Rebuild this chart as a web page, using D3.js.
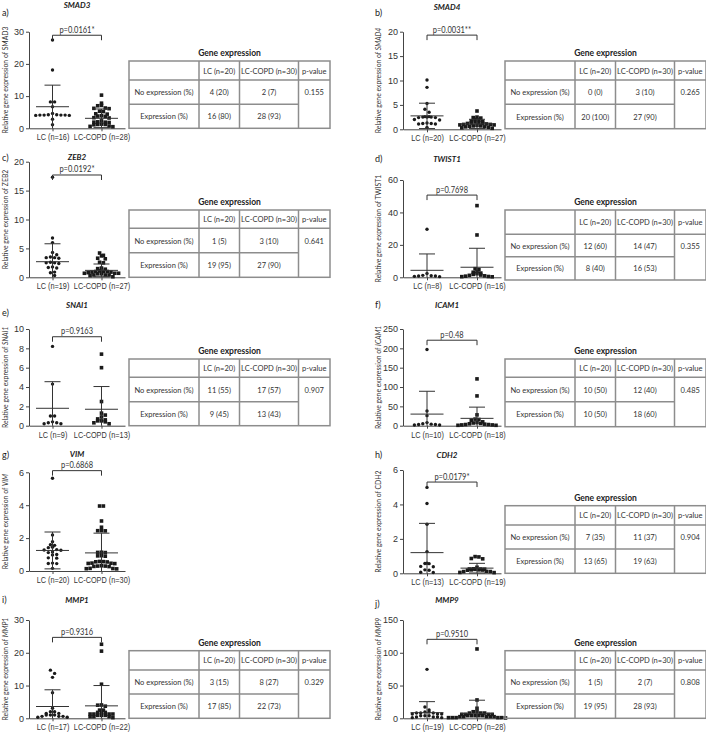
<!DOCTYPE html>
<html>
<head>
<meta charset="utf-8">
<script src="https://cdn.jsdelivr.net/npm/d3@7"></script>
<style>
  body { margin: 0; background: #fff; }
  svg { display: block; font-family: Lato, "Open Sans", sans-serif; }
</style>
</head>
<body>
<div id="chart"></div>
<script>
// ---- data ----
var letters = ["a)", "b)", "c)", "d)", "e)", "f)", "g)", "h)", "i)", "j)"];
var genes = ["SMAD3", "SMAD4", "ZEB2", "TWIST1", "SNAI1", "ICAM1", "VIM", "CDH2", "MMP1", "MMP9"];
var labelItalic = [false, true, false, false, true, true, true, false, true, true];
var yTicks = [
  [0, 10, 20, 30], [0, 5, 10, 15, 20], [0, 5, 10, 15, 20], [0, 20, 40, 60],
  [0, 2, 4, 6, 8, 10], [0, 50, 100, 150, 200, 250], [0, 2, 4, 6], [0, 2, 4, 6],
  [0, 10, 20, 30], [0, 50, 100, 150]
];
var nLC = [16, 20, 19, 8, 9, 10, 20, 13, 17, 19];
var nCOPD = [28, 27, 27, 16, 13, 18, 30, 19, 22, 28];
var pLabels = ["p=0.0161*", "p=0.0031**", "p=0.0192*", "p=0.7698", "p=0.9163",
  "p=0.48", "p=0.6868", "p=0.0179*", "p=0.9316", "p=0.9510"];
var bracketAt = [28.9, 19.3, 17.7, 50.7, 9.2, 221, 6.1, 5.3, 24.7, 120.5];

var lcValues = [
  [27.4, 18.1, 8.2, 8.2, 6.7, 4.6, 4.2, 4.1, 4.1, 4.0, 4.1, 4.2, 4.0, 4.1, 2.8, 1.1],
  [10.1, 8.6, 5.3, 4.1, 3.5, 2.6, 2.5, 2.4, 2.5, 2.6, 2.4, 2.5, 2.0, 1.9, 1.2, 1.1, 1.3, 1.2, 1.1, 0.4],
  [17.3, 6.8, 6.0, 4.3, 3.9, 3.4, 3.3, 3.5, 3.4, 2.5, 2.6, 2.4, 2.5, 1.7, 1.6, 1.8, 0.8, 0.9, 0.3],
  [29.6, 2.3, 1.2, 1.0, 0.8, 0.8, 0.6, 0.4],
  [8.2, 4.3, 1.0, 1.0, 0.4, 0.3, 0.3, 0.2, 0.2],
  [197, 38, 26, 8, 5, 4, 3, 3, 2, 2],
  [5.64, 2.19, 1.78, 1.6, 1.56, 1.45, 1.42, 1.3, 1.28, 1.26, 1.15, 1.12, 1.0, 0.98, 0.8, 0.78, 0.48, 0.46, 0.45, 0.16],
  [4.99, 4.05, 2.85, 1.26, 0.58, 0.57, 0.56, 0.4, 0.38, 0.2, 0.18, 0.06, 0.05],
  [14.7, 13.7, 12.5, 7.8, 3.05, 2.03, 2.0, 1.5, 1.5, 1.0, 1.0, 1.0, 0.6, 0.6, 0.6, 0.3, 0.3],
  [74.7, 17.3, 12.7, 9.5, 9.5, 8, 8, 8, 6.5, 6.5, 6.5, 4, 4, 4, 2, 2, 2, 1, 1]
];
var copdValues = [
  [10.3, 7.8, 7.1, 7.0, 6.2, 6.3, 6.1, 5.3, 5.2, 4.4, 4.5, 3.8, 3.7, 3.9, 3.3, 3.2, 2.3, 1.9, 1.8, 2.0, 1.9, 1.2, 1.1, 1.3, 1.2, 0.6, 0.7, 0.5],
  [3.75, 2.5, 2.4, 2.3, 2.0, 1.9, 1.7, 1.6, 1.5, 1.4, 1.3, 1.2, 1.2, 1.1, 1.0, 1.0, 0.9, 0.9, 0.8, 0.7, 0.7, 0.6, 0.5, 0.5, 0.4, 0.3, 0.2],
  [4.2, 3.8, 3.7, 3.3, 3.2, 2.6, 2.5, 1.5, 1.6, 1.4, 1.0, 1.0, 0.9, 1.1, 1.0, 0.9, 0.7, 0.7, 0.6, 0.8, 0.7, 0.6, 0.4, 0.4, 0.3, 0.4, 0.1],
  [44.2, 26.1, 5.3, 4.8, 3.5, 3.1, 2.6, 2.2, 1.8, 1.4, 1.2, 0.9, 0.7, 0.5, 0.4, 0.3],
  [7.4, 6.0, 2.5, 1.3, 1.1, 0.9, 0.7, 0.6, 0.5, 0.5, 0.4, 0.3, 0.2],
  [121, 77, 28, 17, 16, 14, 10, 8, 7, 6, 5, 4, 3, 3, 2, 2, 1, 1],
  [3.95, 3.95, 3.04, 2.66, 2.45, 2.45, 2.44, 1.14, 1.13, 1.12, 0.93, 0.92, 0.9, 0.58, 0.57, 0.56, 0.55, 0.48, 0.47, 0.46, 0.45, 0.32, 0.3, 0.3, 0.28, 0.27, 0.16, 0.15, 0.14, 0.13],
  [0.97, 0.95, 0.86, 0.84, 0.35, 0.26, 0.25, 0.25, 0.24, 0.23, 0.2, 0.2, 0.19, 0.18, 0.11, 0.1, 0.1, 0.05, 0.04],
  [22.6, 20.5, 10.4, 4.07, 4.0, 3.7, 2.5, 2.5, 1.8, 1.8, 1.8, 1.3, 1.3, 1.3, 1.3, 0.9, 0.9, 0.9, 0.5, 0.5, 0.5, 0.2],
  [105.8, 28, 15.3, 10, 10, 8, 8, 8, 6, 6, 6, 6, 4, 4, 4, 4, 4, 2.5, 2.5, 2.5, 2.5, 2.5, 1, 1, 1, 1, 1, 0.5]
];
var lcMean = [6.7, 2.75, 2.7, 4.3, 1.8, 30, 1.25, 1.2, 3.6, 8.6];
var lcSD = [6.7, 2.6, 3.1, 10.1, 2.75, 59, 1.12, 1.7, 5.1, 16.8];
var copdMean = [3.1, 1.1, 1.2, 6.2, 1.7, 19, 1.1, 0.3, 3.8, 7.6];
var copdSD = [2.9, 0.95, 1.1, 11.7, 2.35, 29, 1.2, 0.28, 6.2, 20];

// contingency tables (null = no table for that panel)
var tableHead = ["", "LC (n=20)", "LC-COPD (n=30)", "p-value"];
var noExprRow = [["4 (20)", "2 (7)"], ["0 (0)", "3 (10)"], ["1 (5)", "3 (10)"], ["12 (60)", "14 (47)"],
  ["11 (55)", "17 (57)"], ["10 (50)", "12 (40)"], null, ["7 (35)", "11 (37)"], ["3 (15)", "8 (27)"], ["1 (5)", "2 (7)"]];
var exprRow = [["16 (80)", "28 (93)"], ["20 (100)", "27 (90)"], ["19 (95)", "27 (90)"], ["8 (40)", "16 (53)"],
  ["9 (45)", "13 (43)"], ["10 (50)", "18 (60)"], null, ["13 (65)", "19 (63)"], ["17 (85)", "22 (73)"], ["19 (95)", "28 (93)"]];
var tablePValue = ["0.155", "0.265", "0.641", "0.355", "0.907", "0.485", null, "0.904", "0.329", "0.808"];

// ---- layout ----
var W = 706, H = 734;
var colLayout = [
  { axisX: 29, axisEnd: 125, tableX: 129, letterX: 2, ylabX: 8 },
  { axisX: 403, axisEnd: 501, tableX: 505, letterX: 375, ylabX: 381 }
];
var colWidths = [70, 40.5, 59, 31.5];
var rowLayout = [
  { top: 31.7, bot: 128.3, title: 8, letter: 16, tab: [61, 80, 104.3, 128.3] },
  { top: 31.7, bot: 129.3, title: 10, letter: 16, tab: [61, 80, 104.3, 128.7] },
  { top: 161.7, bot: 277.3, title: 160, letter: 161, tab: [210, 228.3, 252.7, 277.3] },
  { top: 180, bot: 277.3, title: 161.5, letter: 161.5, tab: [210, 234.3, 256.7, 280] },
  { top: 329, bot: 425.7, title: 308, letter: 316, tab: [359, 377.3, 401.7, 425.7] },
  { top: 329, bot: 425.7, title: 308, letter: 308, tab: [359, 377.3, 401.7, 426.7] },
  { top: 472.3, bot: 571, title: 456.5, letter: 458, tab: null },
  { top: 470, bot: 573.3, title: 457.5, letter: 457.5, tab: [505.7, 525, 549, 573.3] },
  { top: 620, bot: 718.3, title: 602.5, letter: 602.5, tab: [650.7, 670, 694, 718.3] },
  { top: 620, bot: 718.3, title: 602.5, letter: 607, tab: [650.7, 670, 694, 718.3] }
];

var ink = "#1a1a1a", axisCol = "#444", gridCol = "#8d8d8d";

var svg = d3.select("#chart").append("svg").attr("width", W).attr("height", H);

// squeeze text horizontally a bit (the figure uses a narrow font)
function condense(sel, f) {
  sel.each(function () {
    var len = this.getComputedTextLength();
    if (len > 0) d3.select(this).attr("textLength", len * f).attr("lengthAdjust", "spacingAndGlyphs");
  });
}

// Prism-like scatter: points close in value share a row, spread around the centre
function spread(vals, y, cx, s, h) {
  var sorted = vals.slice().sort(d3.ascending);
  var rows = [], cur = null;
  sorted.forEach(function (v) {
    if (!cur || y(cur[0]) - y(v) > h) { cur = [v]; rows.push(cur); } else cur.push(v);
  });
  var placed = [];
  rows.forEach(function (row) {
    var k = row.length;
    var offs = d3.range(k).map(function (j) { return (j - (k - 1) / 2) * s; })
      .sort(function (a, b) { return Math.abs(a) - Math.abs(b) || a - b; });
    var pts = row.slice().sort(d3.descending).map(function (v, j) { return { v: v, ox: offs[j], py: y(v) }; });
    var shift = [0, s / 2, -s / 2].find(function (sh) {
      return pts.every(function (p) {
        return placed.every(function (q) { return Math.hypot(q.ox - p.ox - sh, q.py - p.py) >= s * 0.8; });
      });
    }) || 0;
    pts.forEach(function (p) { p.ox += shift; p.x = cx + p.ox; placed.push(p); });
  });
  return placed;
}

genes.forEach(function (gene, i) {
  var cl = colLayout[i % 2], rl = rowLayout[i];
  var g = svg.append("g");
  var ticks = yTicks[i];

  var y = d3.scaleLinear().domain([0, ticks[ticks.length - 1]]).range([rl.bot, rl.top]);
  var x = d3.scalePoint().domain(["LC", "LC-COPD"]).range([cl.axisX, cl.axisEnd]).padding(0.48);

  // letter + gene title
  g.append("text").attr("x", cl.letterX).attr("y", rl.letter)
    .attr("font-size", 9).attr("fill", ink).text(letters[i]);
  g.append("text").attr("x", (cl.axisX + cl.axisEnd) / 2 - (i % 2 ? 5 : 0)).attr("y", rl.title)
    .attr("text-anchor", "middle").attr("font-size", 8).attr("font-weight", "bold")
    .attr("font-style", "italic").attr("fill", ink).text(gene);

  // y axis
  var ya = g.append("g").attr("transform", "translate(" + cl.axisX + ",0)")
    .call(d3.axisLeft(y).tickValues(ticks).tickSize(3).tickSizeOuter(0).tickPadding(2)
      .tickFormat(function (d) { return d; }));
  ya.select(".domain").attr("stroke", axisCol);
  ya.selectAll(".tick line").attr("stroke", axisCol);
  ya.selectAll("text").attr("font-size", 9).attr("fill", "#333").attr("font-family", null);

  // x axis
  var xa = g.append("g").attr("transform", "translate(0," + rl.bot + ")")
    .call(d3.axisBottom(x).tickSize(3).tickSizeOuter(0).tickPadding(3)
      .tickFormat(function (d, j) { return d + " (n=" + (j ? nCOPD[i] : nLC[i]) + ")"; }));
  xa.select(".domain").attr("stroke", axisCol);
  xa.selectAll(".tick line").attr("stroke", axisCol);
  xa.selectAll("text").attr("font-size", 8.5).attr("fill", "#333").attr("font-family", null);
  condense(xa.selectAll("text"), 0.86);

  // y label
  var yl = g.append("text")
    .attr("transform", "translate(" + cl.ylabX + "," + (rl.top + rl.bot) / 2 + ") rotate(-90)")
    .attr("text-anchor", "middle").attr("font-size", 8.3).attr("fill", "#333");
  yl.append("tspan").text("Relative gene expression of ");
  yl.append("tspan").attr("font-style", labelItalic[i] ? "italic" : "normal").text(gene);
  condense(yl, 0.82);

  // points
  var lcPts = spread(lcValues[i], y, x("LC"), 4.2, 3.4);
  var copdPts = spread(copdValues[i], y, x("LC-COPD"), 3.8, 3.4);
  g.append("g").selectAll("circle").data(lcPts).enter().append("circle")
    .attr("cx", function (d) { return d.x; }).attr("cy", function (d) { return d.py; })
    .attr("r", 1.7).attr("fill", ink);
  g.append("g").selectAll("rect").data(copdPts).enter().append("rect")
    .attr("x", function (d) { return d.x - 1.8; }).attr("y", function (d) { return d.py - 1.8; })
    .attr("width", 3.6).attr("height", 3.6).attr("fill", ink);

  // mean + SD
  [["LC", lcMean[i], lcSD[i]], ["LC-COPD", copdMean[i], copdSD[i]]].forEach(function (m) {
    var cx = x(m[0]);
    var lo = Math.max(0, m[1] - m[2]), hi = m[1] + m[2];
    var eg = g.append("g").attr("stroke", "#333").attr("stroke-width", 1).attr("fill", "none");
    eg.append("line").attr("x1", cx - 16.5).attr("x2", cx + 16.5).attr("y1", y(m[1])).attr("y2", y(m[1]));
    eg.append("line").attr("x1", cx).attr("x2", cx).attr("y1", y(lo)).attr("y2", y(hi));
    eg.append("line").attr("x1", cx - 8).attr("x2", cx + 8).attr("y1", y(hi)).attr("y2", y(hi));
    if (lo > 0) eg.append("line").attr("x1", cx - 8).attr("x2", cx + 8).attr("y1", y(lo)).attr("y2", y(lo));
  });

  // significance bracket
  var by = y(bracketAt[i]);
  g.append("path")
    .attr("d", "M" + x("LC") + "," + (by + 5) + "V" + by + "H" + x("LC-COPD") + "V" + (by + 5))
    .attr("fill", "none").attr("stroke", "#333").attr("stroke-width", 1);
  var pt = g.append("text").attr("x", (x("LC") + x("LC-COPD")) / 2).attr("y", by - 2.5)
    .attr("text-anchor", "middle").attr("font-size", 8.5).attr("fill", "#333").text(pLabels[i]);
  condense(pt, 0.88);

  // table
  if (!rl.tab) return;
  var tx = [cl.tableX];
  colWidths.forEach(function (w, j) { tx.push(tx[j] + w); });
  var ty = rl.tab;
  var tg = g.append("g");
  tg.append("text").attr("x", (tx[0] + tx[4]) / 2).attr("y", ty[0] - 5)
    .attr("text-anchor", "middle").attr("font-size", 8.5).attr("font-weight", "bold")
    .attr("fill", "#222").text("Gene expression");

  var lines = tg.append("g").attr("stroke", gridCol).attr("stroke-width", 1.5);
  lines.append("rect").attr("x", tx[0]).attr("y", ty[0]).attr("width", tx[4] - tx[0])
    .attr("height", ty[3] - ty[0]).attr("fill", "none");
  lines.append("line").attr("x1", tx[0]).attr("x2", tx[4]).attr("y1", ty[1]).attr("y2", ty[1]);
  lines.append("line").attr("x1", tx[0]).attr("x2", tx[3]).attr("y1", ty[2]).attr("y2", ty[2]);
  [1, 2, 3].forEach(function (j) {
    lines.append("line").attr("x1", tx[j]).attr("x2", tx[j]).attr("y1", ty[0]).attr("y2", ty[3]);
  });

  var cells = [];
  tableHead.forEach(function (t, j) { cells.push([j, 0, t]); });
  cells.push([0, 1, "No expression (%)"], [1, 1, noExprRow[i][0]], [2, 1, noExprRow[i][1]], [3, 1, tablePValue[i]]);
  cells.push([0, 2, "Expression (%)"], [1, 2, exprRow[i][0]], [2, 2, exprRow[i][1]]);
  var ct = tg.selectAll("text.cell").data(cells).enter().append("text").attr("class", "cell")
    .attr("x", function (d) { return (tx[d[0]] + tx[d[0] + 1]) / 2; })
    .attr("y", function (d) { return (ty[d[1]] + ty[d[1] + 1]) / 2 + 3; })
    .attr("text-anchor", "middle").attr("font-size", 8.2).attr("fill", "#333")
    .text(function (d) { return d[2]; });
  condense(ct, 0.92);
});
</script>
</body>
</html>
